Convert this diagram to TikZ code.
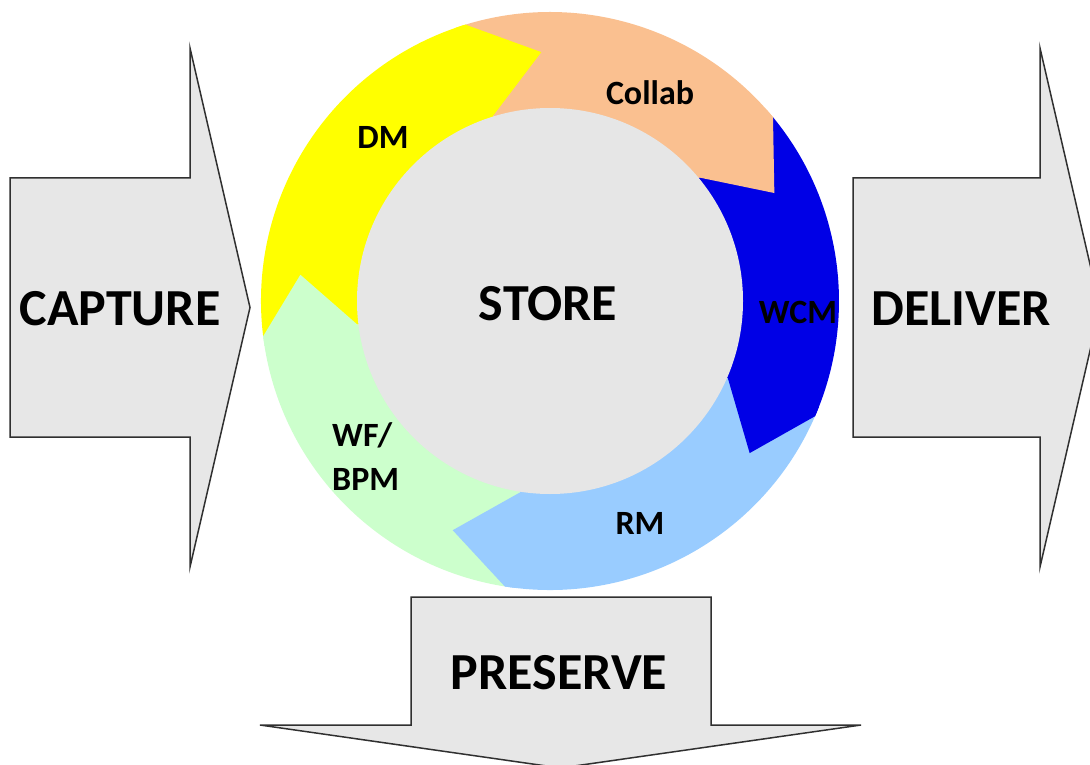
\documentclass[tikz,border=0pt]{standalone}
\usepackage{fontspec}
\setmainfont{Carlito}
\definecolor{arrowgray}{HTML}{E7E7E7}
\definecolor{edgegray}{HTML}{303030}
\definecolor{dmyellow}{HTML}{FFFF00}
\definecolor{collabpeach}{HTML}{FAC090}
\definecolor{wcmblue}{HTML}{0000E6}
\definecolor{rmblue}{HTML}{99CCFF}
\definecolor{wfgreen}{HTML}{CCFFCC}
\definecolor{storegray}{HTML}{E6E6E6}
\begin{document}
\begin{tikzpicture}[x=1pt,y=1pt,
  bigarrow/.style={fill=arrowgray,draw=edgegray,line width=1.5pt,line join=miter},
  bigtext/.style={font=\bfseries\fontsize{52}{56}\selectfont,inner sep=0pt},
  segtext/.style={font=\bfseries\fontsize{34}{44}\selectfont,inner sep=0pt},
]
\useasboundingbox (0,0) rectangle (1090,-765);
\begin{scope}
\clip (0,0) rectangle (1090,-765);
% CAPTURE arrow
\draw[bigarrow] (10,-178) -- (190,-178) -- (190,-48) -- (250,-307.5) -- (190,-567) -- (190,-437) -- (10,-437) -- cycle;
% DELIVER arrow
\draw[bigarrow] (853,-178) -- (1040,-178) -- (1040,-48) -- (1100,-307.5) -- (1040,-567) -- (1040,-437) -- (853,-437) -- cycle;
% PRESERVE arrow
\draw[bigarrow] (411,-597) -- (711,-597) -- (711,-725) -- (861,-725) -- (560.5,-768) -- (260,-725) -- (411,-725) -- cycle;
\end{scope}

\begin{scope}[shift={(550,-301)}]
  % segment bodies
  \fill[dmyellow]    (187:289) arc[start angle=187,end angle=107,radius=289] -- (107:185) arc[start angle=107,end angle=187,radius=185] -- cycle;
  \fill[collabpeach] (107:289) arc[start angle=107,end angle=39.5,radius=289] -- (39.5:185) arc[start angle=39.5,end angle=107,radius=185] -- cycle;
  \fill[wcmblue]     (39.5:289) arc[start angle=39.5,end angle=-23.5,radius=289] -- (-23.5:185) arc[start angle=-23.5,end angle=39.5,radius=185] -- cycle;
  \fill[rmblue]      (-23.5:289) arc[start angle=-23.5,end angle=-99,radius=289] -- (-99:185) arc[start angle=-99,end angle=-23.5,radius=185] -- cycle;
  \fill[wfgreen]     (-99:289) arc[start angle=-99,end angle=-173,radius=289] -- (-173:185) arc[start angle=-173,end angle=-99,radius=185] -- cycle;
  % arrow heads
  \fill[dmyellow]    (109:289) arc[start angle=109,end angle=107,radius=289] -- (92:249) -- (107:194) -- (109:194) -- cycle;
  \fill[collabpeach] (41.5:289) arc[start angle=41.5,end angle=39.5,radius=289] -- (25.7:249) -- (39.5:194) -- (41.5:194) -- cycle;
  \fill[wcmblue]     (-21.5:289) arc[start angle=-21.5,end angle=-23.5,radius=289] -- (-37.3:251) -- (-23.5:194) -- (-21.5:194) -- cycle;
  \fill[rmblue]      (-97:289) arc[start angle=-97,end angle=-99,radius=289] -- (-113:249) -- (-99:194) -- (-97:194) -- cycle;
  \fill[wfgreen]     (-171:289) arc[start angle=-171,end angle=-173,radius=289] -- (-186:251) -- (-173:194) -- (-171:194) -- cycle;
  % centre
  \fill[storegray] (0,0) circle[radius=193];
\end{scope}

% texts
\node[bigtext] (capture) at (120,-309) {CAPTURE};
\node[bigtext] (deliver) at (961,-309) {DELIVER};
\node[bigtext] (preserve) at (559,-673) {PRESERVE};
\node[bigtext] (store) at (548,-304) {STORE};
\node[segtext] (dm) at (383,-137) {DM};
\node[segtext] (collab) at (650,-93) {Collab};
\node[segtext] (wcm) at (798,-312) {WCM};
\node[segtext] (rm) at (640,-523) {RM};
\node[segtext,align=left,anchor=west] (wf) at (332,-457) {WF/\\BPM};
\end{tikzpicture}
\end{document}
